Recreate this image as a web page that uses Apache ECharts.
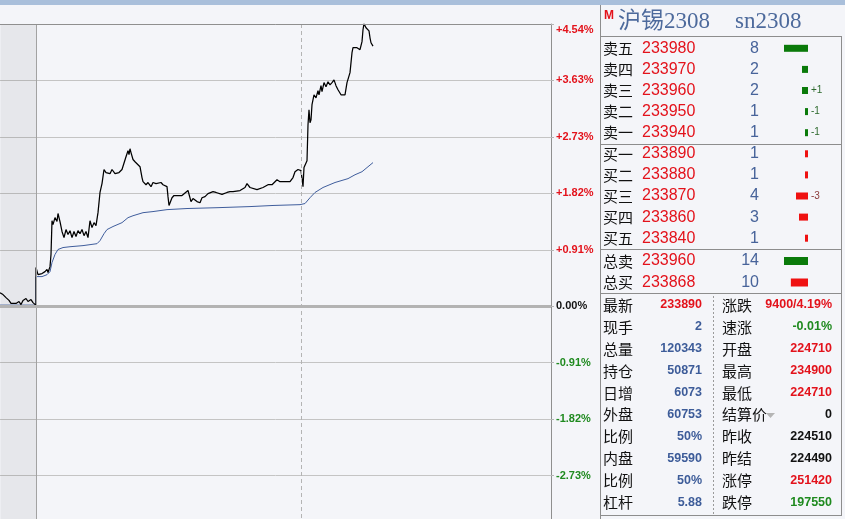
<!DOCTYPE html>
<html><head><meta charset="utf-8">
<script src="https://cdn.jsdelivr.net/npm/echarts@6.0.0/dist/echarts.min.js"></script>
<style>html,body{margin:0;padding:0;background:#f4f5f9;}#c{width:845px;height:519px;}</style>
</head><body><div id="c"></div><script>
// ---------------- DATA ----------------
const prevSettle = 224490;           // 昨结
const pctStep = 0.9085;              // percent per grid row
const yTickLabels = ['-3.63%','-2.73%','-1.82%','-0.91%','0.00%','+0.91%','+1.82%','+2.73%','+3.63%','+4.54%'];
const axisMinutes = 551;             // length of the time axis (minute index)
const sessionMarks = [36, 301];      // day start, session break
const priceT = [0,3,6,9,11,13,16,19,21,23,26,28,31,33,35,36,36,38,40,42,43,45,47,48,50,51,52,53,55,57,58,60,62,64,66,68,70,72,74,76,78,80,82,84,86,88,90,92,94,96,98,100,102,104,106,108,110,112,115,119,122,126,128,129,130,131,133,135,137,140,142,143,146,148,151,153,156,158,161,163,167,168,169,172,174,182,188,191,193,197,200,202,205,208,213,216,222,227,230,233,240,245,247,250,257,263,268,272,277,280,290,293,295,298,301,303,304,307,308,309,310,311,312,314,316,318,319,321,322,324,326,328,330,332,334,336,338,341,343,345,347,350,352,353,355,357,360,362,363,364,366,368,369,370,371,373];
const priceV = [224980,224910,224800,224700,224590,224550,224590,224660,224550,224700,224770,224660,224730,224620,224550,224520,225890,225630,225560,225670,225600,225740,225820,225710,225920,226360,227580,227440,227690,227550,227840,227550,227190,226970,227260,227080,227220,226970,227190,227010,227220,227110,227260,227040,227190,226970,227580,227330,227510,227400,227870,228600,228920,229430,229320,229390,229280,229430,229280,229320,229430,229890,230110,229970,230180,230040,229790,229710,229640,229530,229140,228990,228880,228960,228810,228960,228920,228990,228960,228880,228810,228450,228130,228410,228490,228490,228670,228270,228380,228270,228230,228410,228450,228560,228630,228600,228530,228600,228630,228630,228670,228780,228920,228780,228700,228780,228880,228880,229060,228990,228990,229140,229350,229430,229390,228810,229500,229750,231050,231590,231120,231230,231770,232130,232020,232280,232130,232460,232240,232570,232420,232600,232490,232570,232670,232460,232310,232130,232060,232130,232570,232930,233650,233830,233760,233830,233760,234050,234480,234700,234550,234480,234440,234190,234010,233890];
const avgT = [0,36,36,42,47,50,52,55,58,63,70,83,97,100,104,107,113,122,128,133,143,153,167,187,217,250,273,300,305,310,315,323,335,348,355,362,373];
const avgV = [224530,224530,225560,225560,225630,225740,226070,226360,226540,226610,226640,226680,226750,226860,227110,227260,227370,227510,227690,227760,227870,227910,227980,228020,228050,228090,228130,228160,228200,228410,228600,228780,228960,229100,229240,229350,229680];

const titleName = '沪锡2308';
const titleCode = 'sn2308';
const bookSides  = ['卖五','卖四','卖三','卖二','卖一','买一','买二','买三','买四','买五'];
const bookPrices = [233980,233970,233960,233950,233940,233890,233880,233870,233860,233840];
const bookVols   = [8,2,2,1,1,1,1,4,3,1];
const bookDiffs  = ['','','+1','-1','-1','','','-3','',''];
const totalSides  = ['总卖','总买'];
const totalPrices = [233960,233868];
const totalVols   = [14,10];
const statsLeftLabels  = ['最新','现手','总量','持仓','日增','外盘','比例','内盘','比例','杠杆'];
const statsLeftValues  = ['233890','2','120343','50871','6073','60753','50%','59590','50%','5.88'];
const statsRightLabels = ['涨跌','速涨','开盘','最高','最低','结算价','昨收','昨结','涨停','跌停'];
const statsRightValues = ['9400/4.19%','-0.01%','224710','234900','224710','0','224510','224490','251420','197550'];

// ---------------- STYLE / LAYOUT ----------------
const RED = '#e3121b', GREEN = '#1f8a1f', BLUE = '#3d5c99', BLACK = '#111111', QBLUE = '#47639a';
const leftTone  = ['r','b','b','b','b','b','b','b','b','b'];
const rightTone = ['r','g','r','r','r','k','k','k','r','g'];
const toneColor = {r:RED,g:GREEN,b:BLUE,k:BLACK};
const CJK = '"Noto Sans CJK SC"';
const NUM = '"Liberation Sans", Arial';

const toPct = p => (p - prevSettle) / prevSettle * 100;
const priceData = priceT.map((t,i)=>[t, toPct(priceV[i])]);
const avgData = avgT.map((t,i)=>[t, toPct(avgV[i])]);

const T = (text, x, y, font, fill, align) => ({type:'text', x:x, y:y, silent:true, z:5,
  style:{text:text, font:font, fill:fill, align:align||'left', verticalAlign:'middle'}});
const L = (x1,y1,x2,y2,stroke,dash) => ({type:'line', silent:true, z:4,
  shape:{x1:x1,y1:y1,x2:x2,y2:y2}, style:{stroke:stroke, lineWidth:1, lineDash:dash||null}});

const g = [];
g.push({type:'rect', silent:true, z:3, shape:{x:0,y:0,width:845,height:5}, style:{fill:'#a9bfdb'}});
// panel frame
g.push(L(600.5,5,600.5,519,'#8d8d8d'));
g.push(L(600,36.5,842,36.5,'#8d8d8d'));
g.push(L(841.5,36,841.5,515,'#8d8d8d'));
g.push(L(600,144.5,842,144.5,'#8d8d8d'));
g.push(L(600,249.5,842,249.5,'#8d8d8d'));
g.push(L(600,293.5,842,293.5,'#8d8d8d'));
g.push(L(600,515.5,842,515.5,'#8d8d8d'));
g.push(L(713.5,296,713.5,514,'#9a9a9a',[2,2]));
// title
g.push(T('M',604,16,'bold 12px '+NUM,RED));
g.push(T(titleName,618,22,'23px "Liberation Serif", '+CJK,'#4d6a9c'));
g.push(T(titleCode,735,22,'23px "Liberation Serif", '+CJK,'#4d6a9c'));
// order book
const bookY = i => 48.3 + i*21.1;
bookSides.forEach((s,i)=>{
  g.push(T(s,603,bookY(i),'15px '+CJK,BLACK));
  g.push(T(String(bookPrices[i]),642,bookY(i),'16px '+NUM,RED));
  g.push(T(String(bookVols[i]),759,bookY(i),'16px '+NUM,QBLUE,'right'));
});
const totY = i => 261 + i*21.5;
totalSides.forEach((s,i)=>{
  g.push(T(s,603,totY(i),'15px '+CJK,BLACK));
  g.push(T(String(totalPrices[i]),642,totY(i),'16px '+NUM,RED));
  g.push(T(String(totalVols[i]),759,totY(i),'16px '+NUM,QBLUE,'right'));
});
// stats
const stY = i => 305 + i*21.95;
statsLeftLabels.forEach((s,i)=>{
  g.push(T(s,603,stY(i),'15px '+CJK,BLACK));
  g.push(T(statsLeftValues[i],702,stY(i),'bold 12.5px '+NUM,toneColor[leftTone[i]],'right'));
});
statsRightLabels.forEach((s,i)=>{
  g.push(T(s,722,stY(i),'15px '+CJK,BLACK));
  g.push(T(statsRightValues[i],832,stY(i),'bold 12.5px '+NUM,toneColor[rightTone[i]],'right'));
});
g.push({type:'polygon', silent:true, z:5, shape:{points:[[766,413],[775,413],[770.5,418]]}, style:{fill:'#b5b5b5'}});

const labelRich = {
  up:{color:RED, fontWeight:'bold', fontSize:11, fontFamily:'Liberation Sans'},
  z:{color:'#111', fontWeight:'bold', fontSize:11, fontFamily:'Liberation Sans'},
  dn:{color:GREEN, fontWeight:'bold', fontSize:11, fontFamily:'Liberation Sans'}
};

const option = {
  animation:false,
  backgroundColor:'#f4f5f9',
  graphic:{elements:g},
  grid:[
    {left:0, top:24, width:551, height:508, outerBoundsMode:'none', containLabel:false, show:false},
    {left:784, top:37.75, width:24, height:211, outerBoundsMode:'none'},
    {left:784, top:250.25, width:24, height:43, outerBoundsMode:'none'}
  ],
  xAxis:[
    {gridIndex:0, type:'value', min:0, max:axisMinutes, show:false},
    {gridIndex:1, type:'value', min:0, max:'dataMax', inverse:true, show:false},
    {gridIndex:2, type:'value', min:0, max:'dataMax', inverse:true, show:false}
  ],
  yAxis:[
    {gridIndex:0, type:'value', position:'right', min:-4*pctStep, max:5*pctStep, interval:pctStep,
     axisLine:{show:true, onZero:false, lineStyle:{color:'#8f8f8f'}},
     axisTick:{show:true, length:3, lineStyle:{color:'#b5b5b5'}},
     splitLine:{show:true, lineStyle:{color:'#c4c4c4', width:1}},
     axisLabel:{margin:5, verticalAlignMaxLabel:'top',
       formatter:function(v){const i=Math.round(v/pctStep)+4; const k=i>4?'up':(i<4?'dn':'z'); return '{'+k+'|'+yTickLabels[i]+'}';},
       rich:labelRich}},
    {gridIndex:1, type:'category', data:bookSides, inverse:true, show:false},
    {gridIndex:2, type:'category', data:totalSides, inverse:true, show:false}
  ],
  series:[
    {type:'line', xAxisIndex:0, yAxisIndex:0, data:[], z:1, silent:true,
     markArea:{silent:true, itemStyle:{color:'rgba(0,0,0,0.055)', borderWidth:0, borderColor:'rgba(0,0,0,0)'}, data:[[{xAxis:0.5},{xAxis:sessionMarks[0]}]]},
     markLine:{silent:true, symbol:['none','none'], label:{show:false}, animation:false,
       data:[
         {xAxis:sessionMarks[0], lineStyle:{color:'#a2a2a2', type:'solid', width:1}},
         {xAxis:sessionMarks[1], lineStyle:{color:'#b4b4b4', type:[4,3], width:1}},
         {yAxis:0, lineStyle:{color:'#b3b3b3', type:'solid', width:3}},
         {yAxis:5*pctStep, lineStyle:{color:'#8f8f8f', type:'solid', width:1}}
       ]}},
    {name:'均价', type:'line', xAxisIndex:0, yAxisIndex:0, data:avgData, z:3, symbol:'none',
     lineStyle:{color:'#3f5d9c', width:1}},
    {name:'价格', type:'line', xAxisIndex:0, yAxisIndex:0, data:priceData, z:4, symbol:'none',
     lineStyle:{color:'#000000', width:1.25}},
    {type:'bar', xAxisIndex:1, yAxisIndex:1, barWidth:7, z:5,
     data:bookVols.map((v,i)=>({value:v, itemStyle:{color:i<5?'#0a7a0a':'#ef1111'},
       label:{color:i<5?'#2e6a2e':'#8a3a3a'}})),
     label:{show:true, position:'right', distance:3, fontSize:10, fontFamily:'Liberation Sans',
       formatter:p=>bookDiffs[p.dataIndex]}},
    {type:'bar', xAxisIndex:2, yAxisIndex:2, barWidth:8, z:5,
     data:totalVols.map((v,i)=>({value:v, itemStyle:{color:i===0?'#0a7a0a':'#ef1111'}}))}
  ]
};
const chart = echarts.init(document.getElementById('c'), null, {renderer:'canvas'});
chart.setOption(option);
</script></body></html>
